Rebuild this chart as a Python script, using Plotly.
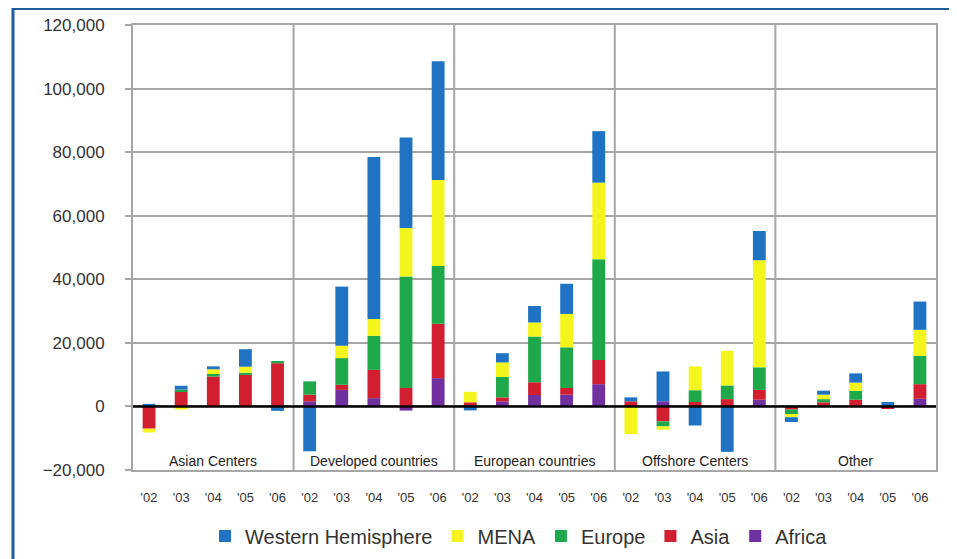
import plotly.graph_objects as go

groups = ["Asian Centers", "Developed countries", "European countries", "Offshore Centers", "Other"]
years = ["'02", "'03", "'04", "'05", "'06"]

# values per bar, 5 groups x 5 years
africa = [0, 0, 0, 0, 0,
          1600, 5200, 2600, -1300, 8900,
          300, 1600, 3600, 3700, 7000,
          300, 1600, 0, 0, 2100,
          -300, 300, 0, -200, 2400]
asia = [-7000, 4700, 9400, 9900, 13600,
        2100, 1600, 8900, 5800, 17100,
        1000, 1250, 4000, 2100, 7600,
        1300, -4700, 1400, 2300, 3100,
        -700, 1000, 2100, -300, 4600]
europe = [0, 600, 800, 700, 700,
          4200, 8400, 10700, 35100, 18200,
          0, 6400, 14400, 12800, 31700,
          0, -1600, 3700, 4300, 7100,
          -1400, 1000, 2800, 0, 8900]
mena = [-1200, -1000, 1500, 1900, 0,
        0, 3900, 5300, 15200, 27000,
        3300, 4600, 4400, 10500, 24100,
        -8700, -1000, 7500, 10900, 33700,
        -1000, 1400, 2600, 0, 8200]
western = [800, 1200, 900, 5500, -1400,
           -14100, 18600, 51000, 28500, 37400,
           -1250, 2900, 5200, 9500, 16200,
           1250, 9400, -6000, -14300, 9200,
           -1500, 1250, 2900, 1400, 8900]

series = [
    ("Africa", africa, "#7030a0"),
    ("Asia", asia, "#d21f30"),
    ("Europe", europe, "#1fa84a"),
    ("MENA", mena, "#f4f51c"),
    ("Western Hemisphere", western, "#1f73c2"),
]

n = len(groups) * len(years)
xs = list(range(n))
ticktext = years * len(groups)

fig = go.Figure()
for name, vals, col in series:
    fig.add_trace(go.Bar(x=xs, y=vals, name=name, marker=dict(color=col, line=dict(width=0))))

# page has an 8px body offset; figure sized to fill the rest of the window
W, H = 949, 551
L, R, T, B = 125, 21, 17, 89
pw = W - L - R
ph = H - T - B

shapes = []
for gi in range(1, len(groups)):
    xv = gi * len(years) - 0.5
    shapes.append(dict(type="line", xref="x", yref="paper", x0=xv, x1=xv, y0=0, y1=1,
                       line=dict(color="#a6a6a6", width=2), layer="below"))
# zero line
shapes.append(dict(type="line", xref="paper", yref="y", x0=0, x1=1, y0=0, y1=0,
                   line=dict(color="#000000", width=2.5)))
# outer blue frame
shapes.append(dict(type="rect", xref="paper", yref="paper",
                   x0=(5 - L) / pw, x1=(945 - L) / pw,
                   y0=(H - B - 570) / ph, y1=(H - B - 0.5) / ph,
                   line=dict(color="#1f5c9c", width=3), fillcolor="rgba(0,0,0,0)"))

annotations = []
for gi, g in enumerate(groups):
    annotations.append(dict(x=gi * len(years) + 2, y=-17300, xref="x", yref="y", text=g,
                            showarrow=False, font=dict(size=14, color="#222222"), yanchor="middle"))

fig.update_layout(
    width=W, height=H,
    margin=dict(l=L, r=R, t=T, b=B, autoexpand=False),
    barmode="relative",
    bargap=0.6,
    plot_bgcolor="white",
    paper_bgcolor="white",
    font=dict(family="Arial, Liberation Sans, sans-serif", color="#333333"),
    shapes=shapes,
    annotations=annotations,
    legend=dict(orientation="h", x=(511 - L) / pw, xanchor="center",
                y=(H - B - 528) / ph, yanchor="middle",
                traceorder="reversed", font=dict(size=20, color="#333333"),
                itemwidth=30),
    showlegend=True,
)
fig.update_xaxes(range=[-0.5, n - 0.5], tickmode="array", tickvals=xs, ticktext=ticktext,
                 tickfont=dict(size=13, color="#333333"), showgrid=False, zeroline=False,
                 showline=True, mirror=True, linecolor="#a6a6a6", linewidth=2,
                 ticks="", ticklabelstandoff=14, automargin=False)
fig.update_yaxes(range=[-20000, 120000], tickvals=list(range(-20000, 120001, 20000)),
                 tickformat=",d", tickfont=dict(size=17, color="#333333"),
                 showgrid=True, gridcolor="#a6a6a6", gridwidth=2, zeroline=False,
                 showline=True, mirror=True, linecolor="#a6a6a6", linewidth=2,
                 ticks="outside", ticklen=6, tickcolor="#a6a6a6", tickwidth=2,
                 ticklabelstandoff=17, automargin=False)

fig.write_html("out.html")
